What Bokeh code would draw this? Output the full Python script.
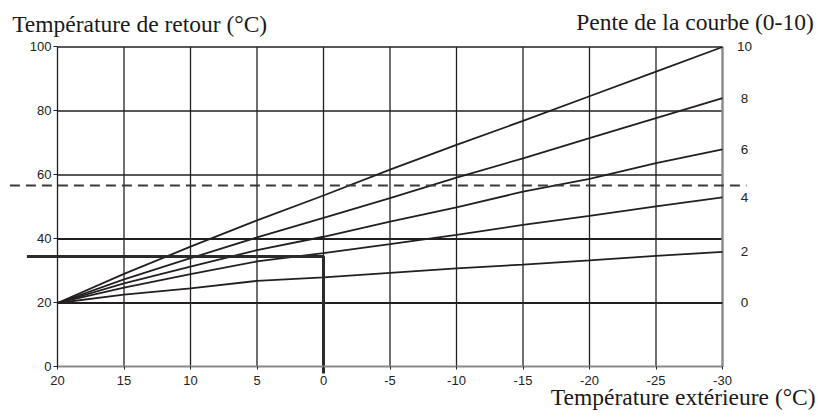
from bokeh.plotting import figure
from bokeh.models import Range1d, LinearAxis, FixedTicker, Label, ColumnDataSource
from bokeh.embed import file_html
from bokeh.resources import INLINE
from bokeh.core.properties import value

# --- data ---
outdoor = [20, 15, 10, 5, 0, -5, -10, -15, -20, -25, -30]
outdoor_labels = ["20", "15", "10", "5", "0", "-5", "-10", "-15", "-20", "-25", "-30"]
return_ticks = [0, 20, 40, 60, 80, 100]
slope_10 = [20, 29.1, 37.6, 45.8, 53.6, 61.7, 69.4, 76.9, 84.6, 92.3, 100]
slope_8 = [20, 27.4, 34.0, 40.5, 46.6, 52.8, 59.2, 65.2, 71.5, 77.8, 84]
slope_6 = [20, 26.1, 31.4, 36.5, 40.7, 45.4, 49.9, 54.8, 58.8, 63.7, 68]
slope_4 = [20, 24.8, 29.0, 33.0, 35.6, 38.4, 41.3, 44.4, 47.2, 50.2, 53]
slope_2 = [20, 22.6, 24.6, 26.9, 28.0, 29.4, 30.8, 32.0, 33.3, 34.7, 36]
slope_0 = [20, 20, 20, 20, 20, 20, 20, 20, 20, 20, 20]
slope_names = ["10", "8", "6", "4", "2", "0"]
curves = [slope_10, slope_8, slope_6, slope_4, slope_2, slope_0]

# example reading (thick line) and limit (dashed line)
example_outdoor = 0
example_return = 34.5
limit_return = 56.7

W, H = 818, 420
p = figure(width=W, height=H, output_backend="svg", toolbar_location=None,
           x_range=Range1d(24.286, -37.218), y_range=Range1d(-16.72, 114.53),
           min_border_left=0, min_border_right=0, min_border_top=0, min_border_bottom=0,
           x_axis_location=None, y_axis_location=None)
p.outline_line_color = None
p.grid.visible = False
p.background_fill_color = "white"

ink = "#231f20"

# grid lines
p.segment(x0=outdoor, x1=outdoor, y0=[0] * len(outdoor), y1=[100] * len(outdoor),
          line_color=ink, line_width=1.3)
hw = [1.9 if t in (20, 40) else 1.3 for t in return_ticks[1:]]
p.segment(x0=[20] * 5, x1=[-30] * 5, y0=return_ticks[1:], y1=return_ticks[1:],
          line_color=ink, line_width=hw)
# right frame edge
p.segment(x0=[-30], x1=[-30], y0=[0], y1=[100], line_color="#8a8a8a", line_width=2.2)

# curves
for c in curves:
    p.line(outdoor, c, line_color=ink, line_width=1.8)

# dashed limit line
p.line([23.58, -31.8], [limit_return, limit_return], line_color="#3a3a3a",
       line_width=2, line_dash="10 6")

# thick example line
p.line([22.3, example_outdoor, example_outdoor], [example_return, example_return, -2.0],
       line_color="#2a2a2a", line_width=3)

# axes
yax = LinearAxis(ticker=FixedTicker(ticks=return_ticks), fixed_location=20, bounds=(0, 100))
yax.axis_line_color = ink
yax.axis_line_width = 1
yax.major_tick_in = 0
yax.major_tick_out = 4
yax.minor_tick_line_color = None
yax.major_tick_line_color = ink
yax.major_label_standoff = 2
yax.major_label_text_font = "Liberation Sans"
yax.major_label_text_font_size = "13px"
yax.major_label_text_color = "#222222"
p.add_layout(yax, "left")

xax = LinearAxis(ticker=FixedTicker(ticks=outdoor), fixed_location=0, bounds=(-30, 20))
xax.axis_line_color = "#8a8a8a"
xax.axis_line_width = 1.8
xax.major_tick_in = 0
xax.major_tick_out = 3
xax.minor_tick_line_color = None
xax.major_tick_line_color = ink
xax.major_label_standoff = 6
xax.major_label_overrides = {t: s for t, s in zip(outdoor, outdoor_labels)}
xax.major_label_text_font = "Liberation Sans"
xax.major_label_text_font_size = "13px"
xax.major_label_text_color = "#222222"
p.add_layout(xax, "below")

# slope labels at curve ends
src = ColumnDataSource(dict(x=[outdoor[-1]] * len(curves), y=[c[-1] for c in curves], t=slope_names))
p.text(x="x", y="y", text="t", source=src, x_offset=22, text_align="center",
       text_baseline="middle", text_font=value("Liberation Sans"), text_font_size="13.5px",
       text_color="#222222")

# titles
serif = "Liberation Serif"
p.add_layout(Label(x=23.41, y=107.3, text="Température de retour (°C)", text_font=serif,
                   text_font_size="23.5px", text_color="#1a1a1a", text_align="left",
                   text_baseline="alphabetic"))
p.add_layout(Label(x=-36.86, y=107.75, text="Pente de la courbe (0-10)", text_font=serif,
                   text_font_size="23.5px", text_color="#1a1a1a", text_align="right",
                   text_baseline="alphabetic"))
p.add_layout(Label(x=-37.0, y=-9.22, text="Température extérieure (°C)", text_font=serif,
                   text_font_size="23.5px", text_color="#1a1a1a", text_align="right",
                   text_baseline="alphabetic"))

open("out.html", "w").write(file_html(p, INLINE))
